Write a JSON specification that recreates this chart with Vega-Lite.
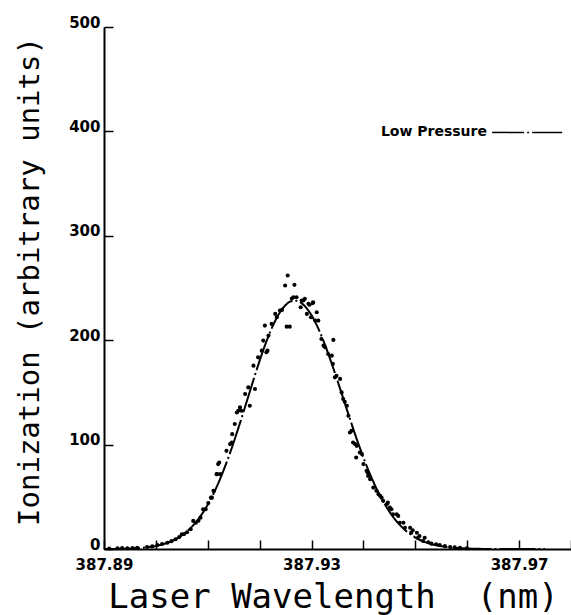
{
  "$schema": "https://vega.github.io/schema/vega-lite/v6.json",
  "width": 467,
  "height": 522,
  "autosize": "none",
  "padding": {"left": 104, "top": 27, "right": 0, "bottom": 66},
  "background": "white",
  "config": {
    "view": {"stroke": null},
    "axis": {"domainColor": "black", "domainWidth": 2, "tickColor": "black", "tickWidth": 1.5, "labelColor": "black", "titleColor": "black", "grid": false}
  },
  "datasets": {
    "curve": [
      {"wl": 387.890, "ion": 0.1}, {"wl": 387.891, "ion": 0.1}, {"wl": 387.892, "ion": 0.1}, {"wl": 387.893, "ion": 0.2},
      {"wl": 387.894, "ion": 0.3}, {"wl": 387.895, "ion": 0.5}, {"wl": 387.896, "ion": 0.7}, {"wl": 387.897, "ion": 1.0},
      {"wl": 387.898, "ion": 1.5}, {"wl": 387.899, "ion": 2.1}, {"wl": 387.900, "ion": 2.9}, {"wl": 387.901, "ion": 4.0},
      {"wl": 387.902, "ion": 5.5}, {"wl": 387.903, "ion": 7.4}, {"wl": 387.904, "ion": 9.9}, {"wl": 387.905, "ion": 13.0},
      {"wl": 387.906, "ion": 16.9}, {"wl": 387.907, "ion": 21.7}, {"wl": 387.908, "ion": 27.5}, {"wl": 387.909, "ion": 34.4},
      {"wl": 387.910, "ion": 42.5}, {"wl": 387.911, "ion": 52.0}, {"wl": 387.912, "ion": 62.7}, {"wl": 387.913, "ion": 74.8},
      {"wl": 387.914, "ion": 87.9}, {"wl": 387.915, "ion": 102.2}, {"wl": 387.916, "ion": 117.4}, {"wl": 387.917, "ion": 133.1},
      {"wl": 387.918, "ion": 149.2}, {"wl": 387.919, "ion": 165.1}, {"wl": 387.920, "ion": 180.4}, {"wl": 387.921, "ion": 194.8},
      {"wl": 387.922, "ion": 207.7}, {"wl": 387.923, "ion": 218.7}, {"wl": 387.924, "ion": 227.5}, {"wl": 387.925, "ion": 233.8},
      {"wl": 387.926, "ion": 237.3}, {"wl": 387.927, "ion": 237.9}, {"wl": 387.928, "ion": 235.7}, {"wl": 387.929, "ion": 231.0},
      {"wl": 387.930, "ion": 223.8}, {"wl": 387.931, "ion": 214.4}, {"wl": 387.932, "ion": 203.0}, {"wl": 387.933, "ion": 190.1},
      {"wl": 387.934, "ion": 176.0}, {"wl": 387.935, "ion": 161.2}, {"wl": 387.936, "ion": 145.9}, {"wl": 387.937, "ion": 130.6},
      {"wl": 387.938, "ion": 115.6}, {"wl": 387.939, "ion": 101.1}, {"wl": 387.940, "ion": 87.5}, {"wl": 387.941, "ion": 74.8},
      {"wl": 387.942, "ion": 63.3}, {"wl": 387.943, "ion": 52.9}, {"wl": 387.944, "ion": 43.8}, {"wl": 387.945, "ion": 35.8},
      {"wl": 387.946, "ion": 28.9}, {"wl": 387.947, "ion": 23.1}, {"wl": 387.948, "ion": 18.3}, {"wl": 387.949, "ion": 14.3},
      {"wl": 387.950, "ion": 11.0}, {"wl": 387.951, "ion": 8.4}, {"wl": 387.952, "ion": 6.4}, {"wl": 387.953, "ion": 4.8},
      {"wl": 387.954, "ion": 3.5}, {"wl": 387.955, "ion": 2.6}, {"wl": 387.956, "ion": 1.9}, {"wl": 387.957, "ion": 1.3},
      {"wl": 387.958, "ion": 0.9}, {"wl": 387.959, "ion": 0.7}, {"wl": 387.960, "ion": 0.5}, {"wl": 387.961, "ion": 0.3},
      {"wl": 387.962, "ion": 0.2}, {"wl": 387.963, "ion": 0.1}, {"wl": 387.964, "ion": 0.1}, {"wl": 387.966, "ion": 0.0},
      {"wl": 387.970, "ion": 0.0}, {"wl": 387.975, "ion": 0.0}
    ],
    "scan": [
      {"wl": 387.8910, "ion": 0.5}, {"wl": 387.8926, "ion": 0.7}, {"wl": 387.8935, "ion": 0.8}, {"wl": 387.8945, "ion": 0.7},
      {"wl": 387.8955, "ion": 1.0}, {"wl": 387.8964, "ion": 1.2}, {"wl": 387.8983, "ion": 1.9}, {"wl": 387.8993, "ion": 2.5},
      {"wl": 387.9003, "ion": 3.8}, {"wl": 387.9012, "ion": 4.8}, {"wl": 387.9022, "ion": 6.0}, {"wl": 387.9030, "ion": 7.5},
      {"wl": 387.9038, "ion": 9.3}, {"wl": 387.9045, "ion": 11.5}, {"wl": 387.9050, "ion": 14.1}, {"wl": 387.9054, "ion": 14.1},
      {"wl": 387.9060, "ion": 16.0}, {"wl": 387.9067, "ion": 18.9}, {"wl": 387.9072, "ion": 26.9}, {"wl": 387.9077, "ion": 25.2},
      {"wl": 387.9082, "ion": 27.0}, {"wl": 387.9086, "ion": 30.0}, {"wl": 387.9091, "ion": 38.1}, {"wl": 387.9096, "ion": 38.1},
      {"wl": 387.9101, "ion": 44.0}, {"wl": 387.9106, "ion": 49.2}, {"wl": 387.9108, "ion": 49.2}, {"wl": 387.9111, "ion": 55.7},
      {"wl": 387.9112, "ion": 55.7}, {"wl": 387.9117, "ion": 71.7}, {"wl": 387.9118, "ion": 71.7}, {"wl": 387.9120, "ion": 81.3},
      {"wl": 387.9122, "ion": 82.8}, {"wl": 387.9124, "ion": 71.7}, {"wl": 387.9136, "ion": 94.0}, {"wl": 387.9143, "ion": 100.5},
      {"wl": 387.9146, "ion": 102.0}, {"wl": 387.9147, "ion": 110.0}, {"wl": 387.9152, "ion": 119.7}, {"wl": 387.9156, "ion": 130.8},
      {"wl": 387.9159, "ion": 132.4}, {"wl": 387.9162, "ion": 135.6}, {"wl": 387.9165, "ion": 132.4}, {"wl": 387.9172, "ion": 148.5},
      {"wl": 387.9178, "ion": 154.8}, {"wl": 387.9181, "ion": 137.2}, {"wl": 387.9188, "ion": 175.6}, {"wl": 387.9191, "ion": 153.3},
      {"wl": 387.9197, "ion": 183.6}, {"wl": 387.9204, "ion": 190.0}, {"wl": 387.9207, "ion": 199.6}, {"wl": 387.9210, "ion": 214.0},
      {"wl": 387.9213, "ion": 188.4}, {"wl": 387.9215, "ion": 190.0}, {"wl": 387.9217, "ion": 204.4}, {"wl": 387.9223, "ion": 215.6},
      {"wl": 387.9230, "ion": 225.2}, {"wl": 387.9233, "ion": 222.0}, {"wl": 387.9239, "ion": 228.4}, {"wl": 387.9243, "ion": 229.0},
      {"wl": 387.9249, "ion": 252.4}, {"wl": 387.9252, "ion": 213.0}, {"wl": 387.9254, "ion": 262.0}, {"wl": 387.9258, "ion": 213.0},
      {"wl": 387.9262, "ion": 240.0}, {"wl": 387.9265, "ion": 241.2}, {"wl": 387.9267, "ion": 253.0}, {"wl": 387.9271, "ion": 241.2},
      {"wl": 387.9279, "ion": 231.6}, {"wl": 387.9281, "ion": 238.0}, {"wl": 387.9284, "ion": 238.0}, {"wl": 387.9287, "ion": 239.6},
      {"wl": 387.9291, "ion": 225.2}, {"wl": 387.9294, "ion": 234.8}, {"wl": 387.9296, "ion": 233.9}, {"wl": 387.9299, "ion": 222.0},
      {"wl": 387.9302, "ion": 235.4}, {"wl": 387.9303, "ion": 236.4}, {"wl": 387.9307, "ion": 218.8}, {"wl": 387.9310, "ion": 226.8},
      {"wl": 387.9313, "ion": 218.8}, {"wl": 387.9319, "ion": 201.2}, {"wl": 387.9323, "ion": 194.8}, {"wl": 387.9326, "ion": 193.2},
      {"wl": 387.9332, "ion": 186.8}, {"wl": 387.9339, "ion": 185.2}, {"wl": 387.9341, "ion": 177.3}, {"wl": 387.9342, "ion": 200.3},
      {"wl": 387.9345, "ion": 164.4}, {"wl": 387.9348, "ion": 166.0}, {"wl": 387.9355, "ion": 162.9}, {"wl": 387.9358, "ion": 150.0},
      {"wl": 387.9361, "ion": 143.7}, {"wl": 387.9364, "ion": 141.0}, {"wl": 387.9368, "ion": 137.2}, {"wl": 387.9371, "ion": 127.6},
      {"wl": 387.9374, "ion": 111.6}, {"wl": 387.9377, "ion": 113.2}, {"wl": 387.9380, "ion": 102.0}, {"wl": 387.9384, "ion": 100.5},
      {"wl": 387.9386, "ion": 87.6}, {"wl": 387.9387, "ion": 98.8}, {"wl": 387.9393, "ion": 92.4}, {"wl": 387.9397, "ion": 90.9},
      {"wl": 387.9400, "ion": 81.3}, {"wl": 387.9406, "ion": 74.9}, {"wl": 387.9408, "ion": 73.2}, {"wl": 387.9409, "ion": 70.0},
      {"wl": 387.9413, "ion": 66.9}, {"wl": 387.9419, "ion": 58.8}, {"wl": 387.9425, "ion": 55.7}, {"wl": 387.9429, "ion": 52.5},
      {"wl": 387.9432, "ion": 50.9}, {"wl": 387.9435, "ion": 49.2}, {"wl": 387.9438, "ion": 46.1}, {"wl": 387.9445, "ion": 42.9},
      {"wl": 387.9447, "ion": 44.4}, {"wl": 387.9451, "ion": 39.6}, {"wl": 387.9454, "ion": 38.1}, {"wl": 387.9457, "ion": 33.3},
      {"wl": 387.9464, "ion": 33.3}, {"wl": 387.9467, "ion": 31.7}, {"wl": 387.9470, "ion": 25.2}, {"wl": 387.9477, "ion": 25.2},
      {"wl": 387.9480, "ion": 20.4}, {"wl": 387.9490, "ion": 20.4}, {"wl": 387.9492, "ion": 15.6}, {"wl": 387.9495, "ion": 18.0},
      {"wl": 387.9503, "ion": 15.6}, {"wl": 387.9505, "ion": 10.8}, {"wl": 387.9508, "ion": 12.5}, {"wl": 387.9515, "ion": 7.7},
      {"wl": 387.9518, "ion": 10.8}, {"wl": 387.9525, "ion": 6.5}, {"wl": 387.9531, "ion": 5.1}, {"wl": 387.9540, "ion": 4.5},
      {"wl": 387.9547, "ion": 3.8}, {"wl": 387.9557, "ion": 2.8}, {"wl": 387.9567, "ion": 1.9}, {"wl": 387.9576, "ion": 1.5},
      {"wl": 387.9586, "ion": 1.2}, {"wl": 387.9599, "ion": 0.7}
    ]
  },
  "layer": [
    {
      "data": {"name": "curve"},
      "mark": {"type": "line", "color": "black", "strokeWidth": 2, "strokeDash": [36, 3, 2, 3], "interpolate": "monotone"},
      "encoding": {
        "x": {
          "field": "wl", "type": "quantitative",
          "scale": {"domain": [387.89, 387.98], "zero": false, "nice": false},
          "axis": {
            "values": [387.89, 387.90, 387.91, 387.92, 387.93, 387.94, 387.95, 387.96, 387.97, 387.98],
            "labelExpr": "indexof(['387.89','387.93','387.97'], format(datum.value, '.2f')) >= 0 ? format(datum.value, '.2f') : ''",
            "tickSize": -9,
            "labelFont": "DejaVu Sans", "labelFontWeight": "bold", "labelFontSize": 15,
            "labelPadding": 17, "labelFlush": false, "labelOverlap": false,
            "title": "Laser Wavelength\u00a0 (nm)",
            "titleFont": "DejaVu Sans Mono", "titleFontSize": 34, "titleFontWeight": "normal",
            "titleX": 229, "titleY": 58, "titleBaseline": "alphabetic", "titleAlign": "center", "titleAnchor": null
          }
        },
        "y": {
          "field": "ion", "type": "quantitative",
          "scale": {"domain": [0, 500], "nice": false},
          "axis": {
            "values": [0, 100, 200, 300, 400, 500],
            "tickSize": -9,
            "labelFont": "DejaVu Sans", "labelFontWeight": "bold", "labelFontSize": 15,
            "labelPadding": 13, "labelBaseline": "alphabetic", "labelAlign": "right", "labelFlush": false,
            "title": "Ionization (arbitrary units)",
            "titleFont": "DejaVu Sans Mono", "titleFontSize": 29, "titleFontWeight": "normal",
            "titleAngle": 270, "titleX": -66, "titleY": 254, "titleBaseline": "alphabetic", "titleAlign": "center", "titleAnchor": null
          }
        }
      }
    },
    {
      "data": {"name": "scan"},
      "mark": {"type": "point", "filled": true, "color": "black", "size": 17, "opacity": 1},
      "encoding": {
        "x": {"field": "wl", "type": "quantitative"},
        "y": {"field": "ion", "type": "quantitative"}
      }
    },
    {
      "data": {"values": [{"label": "Low Pressure"}]},
      "mark": {"type": "text", "align": "right", "baseline": "middle", "font": "DejaVu Sans", "fontWeight": "bold", "fontSize": 14, "color": "black"},
      "encoding": {
        "x": {"datum": 387.9638, "type": "quantitative"},
        "y": {"datum": 399, "type": "quantitative"},
        "text": {"field": "label"}
      }
    },
    {
      "data": {"values": [{"label": "Low Pressure"}]},
      "mark": {"type": "rule", "color": "black", "strokeWidth": 1.5, "strokeDash": [32, 3, 2, 3]},
      "encoding": {
        "x": {"datum": 387.9648, "type": "quantitative"},
        "x2": {"datum": 387.9783},
        "y": {"datum": 399, "type": "quantitative"}
      }
    }
  ]
}
